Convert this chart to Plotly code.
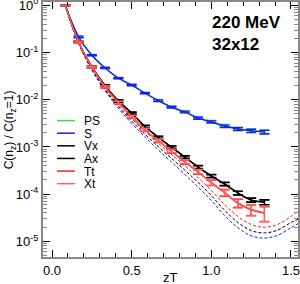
import plotly.graph_objects as go

# ---- data ----
zT = [0.0833, 0.1667, 0.25, 0.3333, 0.4167, 0.5, 0.5833, 0.6667,
      0.75, 0.8333, 0.9167, 1.0, 1.0833, 1.1667, 1.25, 1.3333]

PS = [1.0, 0.216, 0.0885, 0.0475, 0.0290, 0.0207, 0.0141, 0.0098,
      0.0071, 0.0056, 0.0042, 0.0035, 0.00283, 0.00247, 0.00225, 0.00212]
S = [1.0, 0.214, 0.0877, 0.0468, 0.0285, 0.0204, 0.0138, 0.00955,
     0.00692, 0.00550, 0.00407, 0.00339, 0.00275, 0.00240, 0.00219, 0.00207]
Vx = [1.0, 0.170, 0.0501, 0.0200, 0.00955, 0.00525, 0.00275, 0.00162,
      0.00100, 0.000617, 0.000380, 0.000245, 0.000166, 0.000107, 0.0000759, 0.0000684]
Ax = [1.0, 0.168, 0.0495, 0.0197, 0.00940, 0.00515, 0.00270, 0.00159,
      0.00098, 0.000605, 0.000373, 0.000240, 0.000163, 0.000105, 0.0000745, 0.0000672]
Tt = [1.0, 0.166, 0.0490, 0.0186, 0.00870, 0.00437, 0.00229, 0.00135,
      0.00081, 0.000479, 0.000295, 0.000174, 0.000107, 0.0000646, 0.0000468, 0.0000398]
Xt = [1.0, 0.167, 0.0493, 0.0188, 0.00880, 0.00445, 0.00233, 0.00138,
      0.00083, 0.000490, 0.000302, 0.000178, 0.000110, 0.0000665, 0.0000482, 0.0000410]

# relative errors
err_S = [0.01, 0.04, 0.03, 0.03, 0.03, 0.03, 0.03, 0.04,
         0.04, 0.04, 0.05, 0.05, 0.06, 0.07, 0.08, 0.09]
err_V = [0.01, 0.03, 0.04, 0.04, 0.05, 0.05, 0.05, 0.05,
         0.06, 0.06, 0.07, 0.07, 0.08, 0.09, 0.10, 0.12]
err_T = [0.01, 0.04, 0.04, 0.05, 0.06, 0.06, 0.07, 0.08,
         0.09, 0.10, 0.11, 0.13, 0.16, 0.20, 0.26, 0.35]

# free-theory (dashed) curves
zT_free = [0.0833, 0.1667, 0.25, 0.3333, 0.4167, 0.5, 0.5833, 0.6667, 0.75, 0.8333,
           0.9167, 1.0, 1.0833, 1.1667, 1.25, 1.3333, 1.4167, 1.5, 1.55]
free_T_log = [0, -0.79, -1.33, -1.75, -2.10, -2.40, -2.67, -2.92, -3.16, -3.40,
              -3.65, -3.92, -4.22, -4.47, -4.64, -4.70, -4.64, -4.47, -4.33]
free_V_log = [0, -0.80, -1.35, -1.78, -2.14, -2.45, -2.73, -2.99, -3.24, -3.49,
              -3.75, -4.03, -4.34, -4.60, -4.77, -4.82, -4.76, -4.60, -4.52]
free_S_log = [0, -0.81, -1.37, -1.81, -2.18, -2.50, -2.79, -3.06, -3.32, -3.58,
              -3.85, -4.13, -4.45, -4.71, -4.88, -4.93, -4.87, -4.71, -4.61]

names = ["PS", "S", "Vx", "Ax", "Tt", "Xt"]
colors = ["#33dd33", "#1a1aff", "#000000", "#000000", "#ff1a1a", "#ff6060"]
series = [PS, S, Vx, Ax, Tt, Xt]
errs = [err_S, err_S, err_V, err_V, err_T, err_T]

fig = go.Figure()

# dashed curves
for ylog, col in [(free_S_log, "#1a1aff"), (free_V_log, "#000000"), (free_T_log, "#ff1a1a")]:
    fig.add_trace(go.Scatter(
        x=zT_free, y=[10 ** v for v in ylog], mode="lines",
        line=dict(color=col, width=1, dash="3px,2px", shape="spline"),
        showlegend=False, hoverinfo="skip"))

for name, col, ys, er in zip(names, colors, series, errs):
    fig.add_trace(go.Scatter(
        x=zT, y=ys, mode="lines", name=name,
        line=dict(color=col, width=1.3, shape="spline"),
        error_y=dict(type="data", array=[y * e for y, e in zip(ys, er)],
                     color=col, thickness=1.3, width=5),
        showlegend=False))

# manual legend (short line samples + labels)
leg_y0 = 0.535
leg_dy = 0.0495
for i, (name, col) in enumerate(zip(names, colors)):
    yy = leg_y0 - i * leg_dy
    fig.add_shape(type="line", xref="paper", yref="paper",
                  x0=0.055, x1=0.125, y0=yy, y1=yy,
                  line=dict(color=col, width=1.5))
    fig.add_annotation(xref="paper", yref="paper", x=0.155, y=yy,
                       text=name, showarrow=False, xanchor="left", yanchor="middle",
                       height=11, borderpad=0, font=dict(size=12, color="#000000"))

fig.add_annotation(xref="paper", yref="paper", x=0.655, y=0.875,
                   text="<b>220 MeV<br>32x12</b>", showarrow=False,
                   xanchor="left", yanchor="middle", align="left",
                   font=dict(size=17, color="#000000"))

# axis titles
fig.add_annotation(xref="paper", yref="paper", x=0.5, y=-0.082,
                   text="zT", showarrow=False, xanchor="center", yanchor="middle",
                   font=dict(size=13, color="#000000"))
fig.add_annotation(xref="paper", yref="paper", x=-0.13, y=0.5,
                   text="C(n<sub>z</sub>) / C(n<sub>z</sub>=1)", showarrow=False,
                   textangle=-90, xanchor="center", yanchor="middle",
                   font=dict(size=12, color="#000000"))

ytickv = [1, 0.1, 0.01, 0.001, 0.0001, 0.00001]
ytickt = ["10<sup>0</sup>", "10<sup>-1</sup>", "10<sup>-2</sup>",
          "10<sup>-3</sup>", "10<sup>-4</sup>", "10<sup>-5</sup>"]

fig.update_layout(
    width=300, height=284,
    margin=dict(l=43, r=2, t=2, b=27),
    paper_bgcolor="white", plot_bgcolor="white",
    font=dict(family="Liberation Sans, Arial, sans-serif", size=13, color="#000000"),
    xaxis=dict(range=[-0.0565, 1.544], tickvals=[0.0, 0.5, 1.0, 1.5],
               ticktext=["0.0", "0.5", "1.0", "1.5"], automargin=False,
               ticklabeloverflow="allow",
               ticks="inside", ticklen=7, tickcolor="#000000", tickwidth=1,
               showline=True, linecolor="#888888", linewidth=2, mirror="allticks",
               showgrid=False, zeroline=False,
               minor=dict(dtick=0.1, tick0=0, ticks="inside", ticklen=4,
                          tickcolor="#000000", showgrid=False)),
    yaxis=dict(type="log", range=[-5.33, 0.07], tickvals=ytickv, ticktext=ytickt,
               automargin=False, ticklabeloverflow="allow",
               ticks="inside", ticklen=7, tickcolor="#000000", tickwidth=1,
               showline=True, linecolor="#888888", linewidth=2, mirror="allticks",
               showgrid=False, zeroline=False,
               minor=dict(dtick="D1", ticks="inside", ticklen=4,
                          tickcolor="#888888", showgrid=False)),
)

fig.write_html("out.html", config={"displayModeBar": False},
               post_script="document.body.style.margin='0';")
